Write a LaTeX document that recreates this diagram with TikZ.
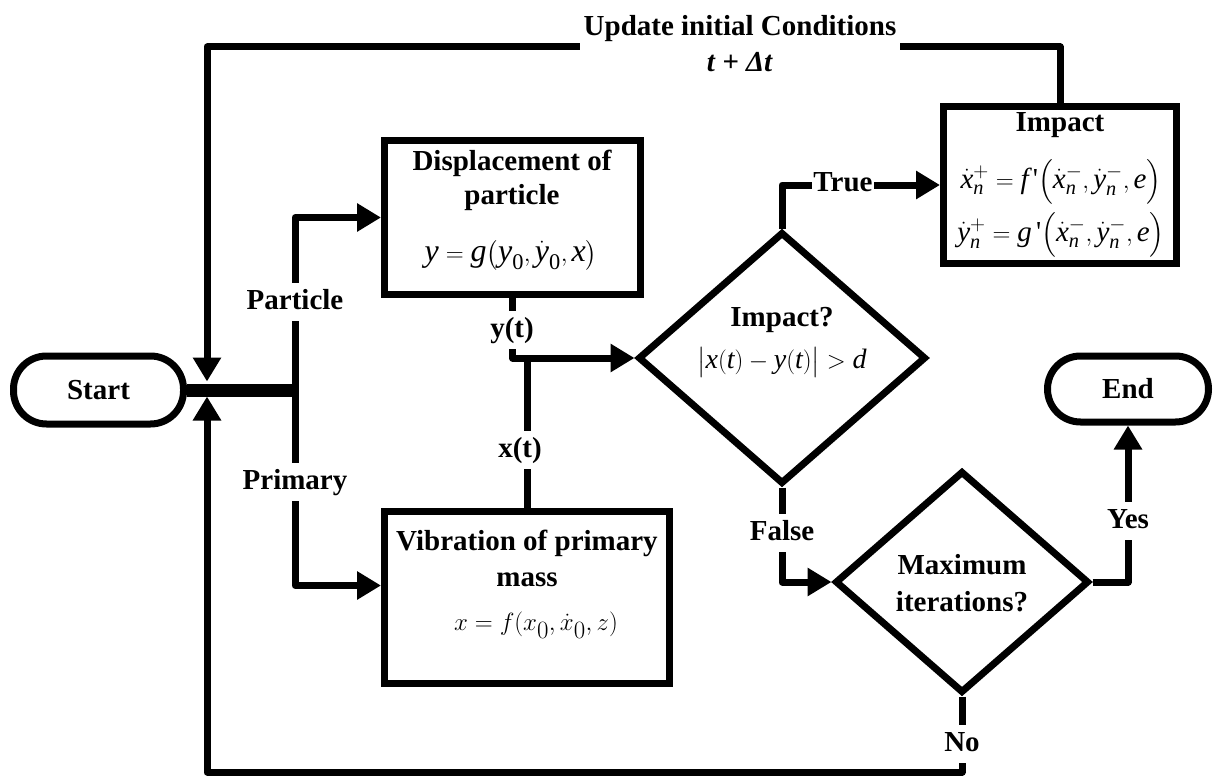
\documentclass[tikz,border=0pt]{standalone}
\usepackage{fontspec}
\setmainfont{Liberation Serif}
\usepackage{amsmath}
\usetikzlibrary{shapes.geometric,arrows.meta}
\newcommand{\fs}{\fontsize{29}{36}\selectfont}
\newcommand{\vi}[1]{\text{\normalfont\itshape #1}}
\newcommand{\vu}[1]{\text{\normalfont #1}}
\newcommand{\tick}{\text{\normalfont\XeTeXglyph\XeTeXcharglyph"0027\relax}}
\begin{document}
\begin{tikzpicture}[x=1pt,y=-1pt,
  ln/.style={line width=7pt,line join=round},
  arr/.style={ln,-{Triangle[length=24pt,width=27pt]}},
  box/.style={draw,line width=7pt,fill=white,inner sep=0pt},
  term/.style={box,rounded corners=33pt,font=\fs\bfseries},
  dia/.style={draw,diamond,line width=7pt,fill=white,inner sep=0pt},
  lbl/.style={fill=white,inner xsep=2pt,inner ysep=6pt,text height=20pt,text depth=6pt,font=\fs\bfseries},
  lblm/.style={fill=white,inner xsep=4pt,inner ysep=2pt,align=center,font=\fs\bfseries},
  txt/.style={inner sep=0pt,font=\fs\bfseries},
  eq/.style={inner sep=0pt,font=\fontsize{28}{32}\selectfont}]
\useasboundingbox (0,0) rectangle (1216,776);

% terminals
\node[term,minimum width=170pt,minimum height=68pt] (start) at (98.5,390) {Start};
\node[term,minimum width=161pt,minimum height=66pt] (end) at (1128,389) {End};

% process boxes
\node[box,minimum width=256pt,minimum height=154pt] (disp) at (512.5,217.5) {};
\node[txt] (disp1) at (512,163) {Displacement of};
\node[txt] (disp2) at (512,198) {particle};
\node[eq,font=\fontsize{32}{36}\selectfont] (disp3) at (511,255) {$\vi{y}=\vi{g}\bigl(\vi{y}_{\vu{0}},\dot{\vi{y}}_{\vu{0}},\vi{x}\bigr)$};

\node[box,minimum width=285pt,minimum height=172pt] (vib) at (527,597.5) {};
\node[txt] (vib1) at (527,543) {Vibration of primary};
\node[txt] (vib2) at (527,580) {mass};
\node[eq,font=\fontsize{34}{38}\selectfont] (vib3) at (536,625) {$x=f(x_0,\dot{x}_0,z)$};

\node[box,minimum width=233pt,minimum height=157pt] (imp) at (1060,185) {};
\node[txt] (imp1) at (1060,125) {Impact};
\node[eq,font=\fontsize{29}{32}\selectfont] (imp2) at (1061,182) {$\dot{\vi{x}}_{\vi{n}}^{+}=\vi{f}\,\tick\Bigl(\dot{\vi{x}}_{\vi{n}}^{-},\dot{\vi{y}}_{\vi{n}}^{-},\vi{e}\Bigr)$};
\node[eq,font=\fontsize{29}{32}\selectfont] (imp3) at (1061,235) {$\dot{\vi{y}}_{\vi{n}}^{+}=\vi{g}\,\tick\Bigl(\dot{\vi{x}}_{\vi{n}}^{-},\dot{\vi{y}}_{\vi{n}}^{-},\vi{e}\Bigr)$};

% decisions
\node[dia,minimum width=288pt,minimum height=252pt] (dia1) at (782,358) {};
\node[txt] (dia1a) at (782,320) {Impact?};
\node[eq] (dia1b) at (782,362) {$\bigl|\vi{x}(\vi{t})-\vi{y}(\vi{t})\bigr|>\vi{d}$};

\node[dia,minimum width=254pt,minimum height=222pt] (dia2) at (962,582) {};
\node[txt] (dia2a) at (962,565) {Maximum};
\node[txt] (dia2b) at (962,602) {iterations?};

% connectors
\coordinate (J) at (295,390);
\draw[line width=13pt] (start.east) -- (J);
\draw[arr] (J) |- (disp.west);
\draw[arr] (J) |- ([yshift=12pt]vib.west);

\coordinate (TL) at (207,47);
\coordinate (tp) at (207,381.5);
\draw[arr] (imp.north) |- (TL) -- (tp);
\coordinate (BL) at (207,772);
\coordinate (bt) at (207,396.5);
\draw[arr] (dia2.south) |- (BL) -- (bt);

\draw[arr] (disp.south) |- (dia1.west);
\draw[ln] (vib.north) -- (vib.north |- dia1.west);
\draw[arr] (dia1.north) |- (imp.west);
\draw[arr] (dia1.south) |- (dia2.west);
\draw[arr] (dia2.east) -| (end.south);

% labels
\node[lbl] (lp) at (295,302) {Particle};
\node[lbl] (lq) at (295,482) {Primary};
\node[lblm] (upd) at (740,44) {Update initial Conditions\\\textit{t + Δt}};
\node[lbl] (ly) at (512,330) {y(t)};
\node[lbl] (lx) at (520,450) {x(t)};
\node[lbl,inner xsep=1pt] (lt) at (843,184) {True};
\node[lbl] (lf) at (782,533) {False};
\node[lbl] (lyes) at (1128,521) {Yes};
\node[lbl] (lno) at (962,744) {No};
\end{tikzpicture}
\end{document}
